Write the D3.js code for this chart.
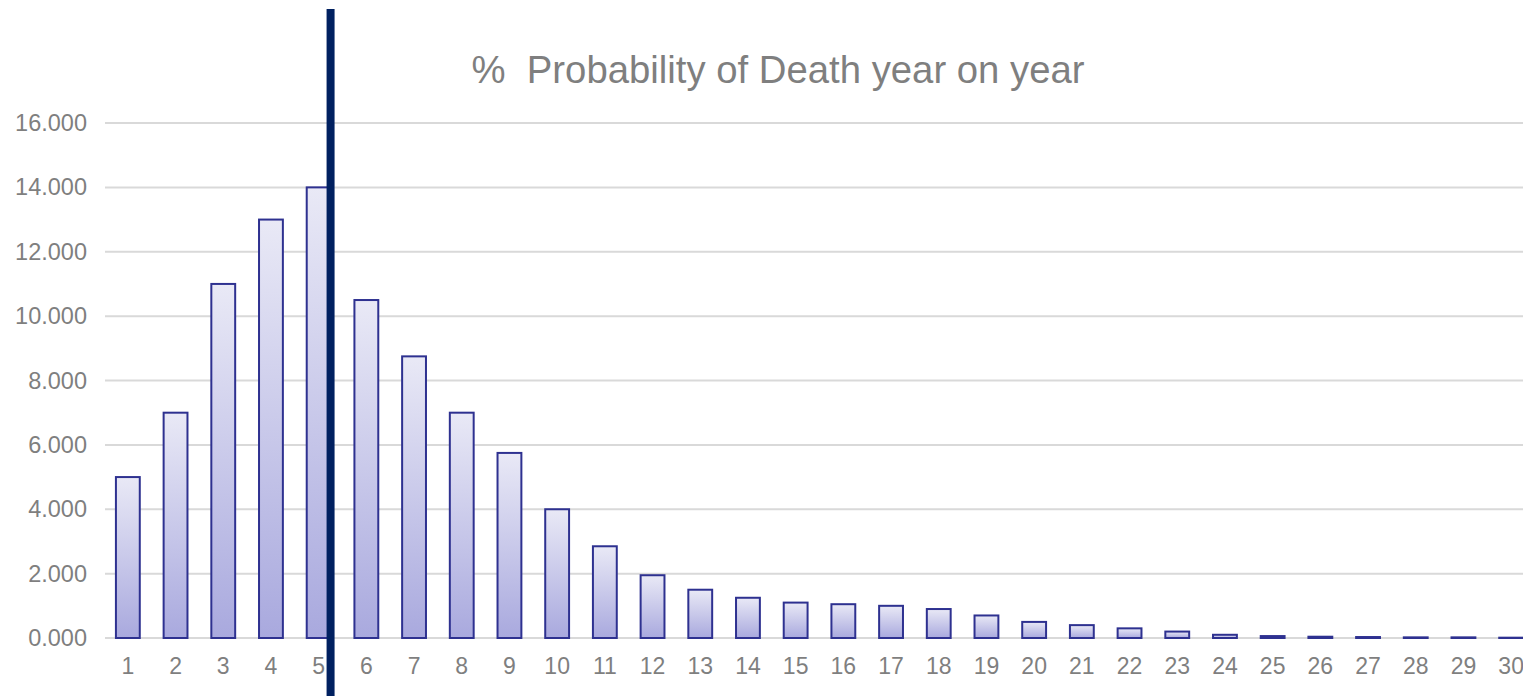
<!DOCTYPE html>
<html>
<head>
<meta charset="utf-8">
<script src="https://cdn.jsdelivr.net/npm/d3@7"></script>
<style>
  html, body { margin: 0; padding: 0; background: #ffffff; }
  svg { display: block; font-family: "Liberation Sans", Arial, sans-serif; }
</style>
</head>
<body>
<svg id="chart" width="1523" height="696"></svg>
<script>
// Year index and the percentage probability of death in that year
const years = d3.range(1, 31).map(String);
const probability = [
  5.0, 7.0, 11.0, 13.0, 14.0, 10.5, 8.75, 7.0, 5.75, 4.0,
  2.85, 1.95, 1.5, 1.25, 1.1, 1.05, 1.0, 0.9, 0.7, 0.5,
  0.4, 0.3, 0.2, 0.1, 0.06, 0.04, 0.03, 0.02, 0.02, 0.01
];
const yTicks = [0, 2, 4, 6, 8, 10, 12, 14, 16];
const chartTitle = "%  Probability of Death year on year";
// Year after which the divider line is drawn
const dividerYear = "5";

const svg = d3.select("#chart");
const width = 1523, height = 696;
const margin = { top: 123, right: -12, bottom: 58, left: 104 };

const x = d3.scaleBand()
  .domain(years)
  .range([margin.left, width - margin.right])
  .paddingInner(0.5)
  .paddingOuter(0.25);

const y = d3.scaleLinear()
  .domain([0, 16])
  .range([height - margin.bottom, margin.top]);

// Bar gradient: pale lavender at the top to a deeper periwinkle at the base
const defs = svg.append("defs");
const grad = defs.append("linearGradient")
  .attr("id", "barFill")
  .attr("x1", 0).attr("y1", 0).attr("x2", 0).attr("y2", 1);
grad.append("stop").attr("offset", "0%").attr("stop-color", "#e9e9f6");
grad.append("stop").attr("offset", "100%").attr("stop-color", "#a9a9de");

// Horizontal gridlines
svg.append("g")
  .selectAll("line")
  .data(yTicks)
  .join("line")
  .attr("x1", 105)
  .attr("x2", width)
  .attr("y1", d => y(d))
  .attr("y2", d => y(d))
  .attr("stroke", "#d9d9d9")
  .attr("stroke-width", 2);

// Y axis labels
const yAxis = d3.axisLeft(y)
  .tickValues(yTicks)
  .tickFormat(d3.format(".3f"))
  .tickSize(0)
  .tickPadding(0);
svg.append("g")
  .attr("transform", `translate(87,0)`)
  .call(yAxis)
  .call(g => g.select(".domain").remove())
  .call(g => g.selectAll("text")
    .attr("fill", "#7f7f7f")
    .attr("font-size", 23.5)
    .attr("font-family", "Liberation Sans, Arial, sans-serif"));

// Bars
svg.append("g")
  .selectAll("rect")
  .data(years.map((yr, i) => ({ yr, v: probability[i] })))
  .join("rect")
  .attr("x", d => x(d.yr))
  .attr("width", x.bandwidth())
  .attr("y", d => y(d.v))
  .attr("height", d => y(0) - y(d.v))
  .attr("fill", "url(#barFill)")
  .attr("stroke", "#2e3190")
  .attr("stroke-width", 2);

// X axis labels
const xAxis = d3.axisBottom(x).tickSize(0).tickPadding(0);
svg.append("g")
  .attr("transform", `translate(0,${y(0) + 20})`)
  .call(xAxis)
  .call(g => g.select(".domain").remove())
  .call(g => g.selectAll("text")
    .attr("dy", "0.71em")
    .attr("fill", "#7f7f7f")
    .attr("font-size", 23)
    .attr("font-family", "Liberation Sans, Arial, sans-serif"));

// Divider line at the right edge of the chosen year's bar
const dividerX = x(dividerYear) + x.bandwidth();
svg.append("line")
  .attr("x1", dividerX)
  .attr("x2", dividerX)
  .attr("y1", 9)
  .attr("y2", height)
  .attr("stroke", "#002060")
  .attr("stroke-width", 8);

// Title
svg.append("text")
  .attr("x", 778)
  .attr("y", 83)
  .attr("text-anchor", "middle")
  .attr("fill", "#7f7f7f")
  .attr("font-size", 38.3)
  .attr("xml:space", "preserve")
  .style("white-space", "pre")
  .text(chartTitle);
</script>
</body>
</html>
